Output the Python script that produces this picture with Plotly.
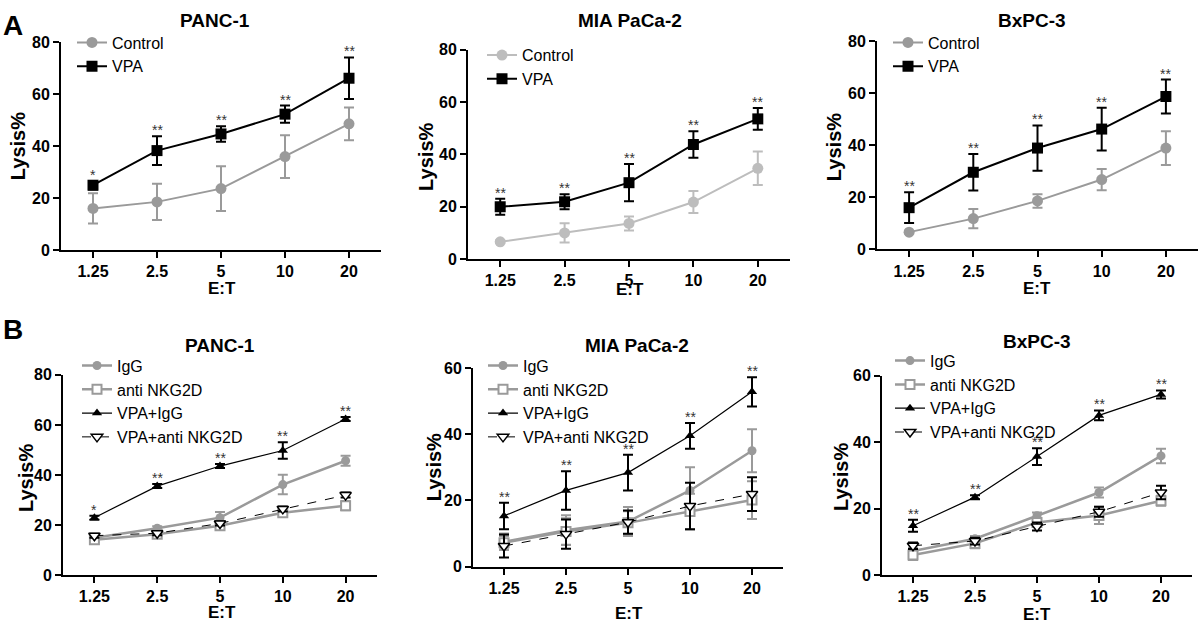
import plotly.graph_objects as go

W, H = 1200, 631

# ---------------- data ----------------
categories = ["1.25", "2.5", "5", "10", "20"]

# Panel A: Control vs VPA
a_panc1_control = [16.1, 18.6, 23.7, 36.0, 48.6]
a_panc1_control_err = [5.8, 7.0, 8.6, 8.2, 6.3]
a_panc1_vpa = [25.0, 38.3, 44.7, 52.3, 66.1]
a_panc1_vpa_err = [1.6, 5.5, 3.0, 3.3, 8.0]
a_panc1_sig = ["*", "**", "**", "**", "**"]

a_mia_control = [6.6, 10.0, 13.6, 21.8, 34.7]
a_mia_control_err = [0.5, 3.7, 2.7, 4.2, 6.4]
a_mia_vpa = [20.0, 21.9, 29.2, 43.8, 53.6]
a_mia_vpa_err = [3.1, 2.9, 7.1, 5.1, 4.2]
a_mia_sig = ["**", "**", "**", "**", "**"]

a_bx_control = [6.6, 11.8, 18.6, 26.8, 38.9]
a_bx_control_err = [0.5, 3.7, 2.6, 4.1, 6.5]
a_bx_vpa = [16.0, 29.6, 38.9, 46.2, 58.7]
a_bx_vpa_err = [5.9, 7.0, 8.7, 8.2, 6.5]
a_bx_sig = ["**", "**", "**", "**", "**"]

# Panel B: IgG / anti NKG2D / VPA+IgG / VPA+anti NKG2D
b_panc1_igg = [15.0, 18.8, 23.0, 36.2, 45.7]
b_panc1_igg_err = [0.8, 0.8, 2.3, 3.9, 2.0]
b_panc1_anti = [14.2, 16.4, 19.8, 25.0, 27.8]
b_panc1_anti_err = [1.0, 0.8, 1.5, 1.2, 1.8]
b_panc1_vpa_igg = [23.0, 35.6, 43.6, 49.8, 62.4]
b_panc1_vpa_igg_err = [0.8, 0.8, 0.8, 3.3, 0.8]
b_panc1_vpa_anti = [15.8, 16.8, 20.7, 26.5, 32.0]
b_panc1_vpa_anti_err = [0.8, 0.8, 0.8, 1.0, 1.0]
b_panc1_sig = ["*", "**", "**", "**", "**"]

b_mia_igg = [7.5, 11.0, 13.6, 23.0, 35.0]
b_mia_igg_err = [2.5, 4.5, 4.4, 7.0, 6.5]
b_mia_anti = [7.2, 10.6, 13.2, 16.6, 20.1]
b_mia_anti_err = [2.0, 4.0, 3.5, 5.4, 5.7]
b_mia_vpa_igg = [15.3, 23.0, 28.4, 39.5, 52.8]
b_mia_vpa_igg_err = [4.0, 5.8, 5.4, 3.9, 4.4]
b_mia_vpa_anti = [6.2, 9.8, 13.4, 18.3, 21.9]
b_mia_vpa_anti_err = [3.5, 4.4, 3.5, 7.0, 5.1]
b_mia_sig = ["**", "**", "**", "**", "**"]

b_bx_igg = [7.3, 11.0, 17.9, 24.9, 35.9]
b_bx_igg_err = [1.0, 0.8, 1.0, 1.5, 2.2]
b_bx_anti = [6.1, 9.6, 15.9, 18.0, 22.4]
b_bx_anti_err = [1.5, 1.5, 1.0, 2.6, 1.5]
b_bx_vpa_igg = [14.9, 23.5, 35.7, 48.1, 54.4]
b_bx_vpa_igg_err = [1.8, 0.6, 2.5, 1.5, 1.2]
b_bx_vpa_anti = [8.9, 10.3, 14.7, 19.1, 24.9]
b_bx_vpa_anti_err = [1.0, 1.0, 1.2, 1.5, 2.0]
b_bx_sig = ["**", "**", "**", "**", "**"]

# ---------------- styling / layout ----------------
FONT = "Liberation Sans, Arial, sans-serif"
GRAY = "#9a9a9a"
LIGHT = "#bdbdbd"


def px(x):
    return x / W


def py(y):
    return 1 - y / H


# pixel boxes: (x0, x1, ytop, ybottom), y max, title centre, ylabel centre, xlabel centre, legend pos
panels = [
    dict(box=(61, 381, 35, 249), ymax=80, title="PANC-1", tx=215, ty=13, ylx=18, yly=142, etx=222, ety=288, lx=72, ly=18),
    dict(box=(468, 790, 43, 258), ymax=80, title="MIA PaCa-2", tx=630, ty=13, ylx=426, yly=153, etx=630, ety=289, lx=482, ly=31),
    dict(box=(877, 1198, 34, 248), ymax=80, title="BxPC-3", tx=1032, ty=13, ylx=834, yly=143, etx=1037, ety=288, lx=888, ly=18),
    dict(box=(63, 377, 377, 583), ymax=80, title="PANC-1", tx=220, ty=347, ylx=26, yly=483, etx=222, ety=621, lx=77, ly=350),
    dict(box=(473, 783, 370, 574), ymax=60, title="MIA PaCa-2", tx=637, ty=347, ylx=434, yly=472, etx=629, ety=622, lx=483, ly=350),
    dict(box=(882, 1192, 378, 583), ymax=60, title="BxPC-3", tx=1037, ty=343, ylx=841, yly=482, etx=1037, ety=623, lx=890, ly=345),
]

fig = go.Figure()


def add(i, name, y, err, color, symbol, msize, lwidth, dash="solid", mfill=None, mline=0, ewidth=2):
    sfx = "" if i == 0 else str(i + 1)
    fig.add_trace(go.Scatter(
        x=categories, y=y, name=name, mode="lines+markers",
        xaxis="x" + sfx, yaxis="y" + sfx, legend="legend" + sfx,
        line=dict(color=color, width=lwidth, dash=dash),
        marker=dict(symbol=symbol, size=msize, color=mfill if mfill else color,
                    line=dict(color=color, width=mline)),
        error_y=dict(type="data", array=err, visible=True, color=color, thickness=ewidth, width=5),
        cliponaxis=False,
    ))


# A panels
add(0, "Control", a_panc1_control, a_panc1_control_err, GRAY, "circle", 11, 2)
add(0, "VPA", a_panc1_vpa, a_panc1_vpa_err, "black", "square", 11, 2)
add(1, "Control", a_mia_control, a_mia_control_err, LIGHT, "circle", 11, 2)
add(1, "VPA", a_mia_vpa, a_mia_vpa_err, "black", "square", 11, 2)
add(2, "Control", a_bx_control, a_bx_control_err, GRAY, "circle", 11, 2)
add(2, "VPA", a_bx_vpa, a_bx_vpa_err, "black", "square", 11, 2)

# B panels
for i, (igg, igge, anti, antie, vi, vie, va, vae) in enumerate([
    (b_panc1_igg, b_panc1_igg_err, b_panc1_anti, b_panc1_anti_err, b_panc1_vpa_igg, b_panc1_vpa_igg_err, b_panc1_vpa_anti, b_panc1_vpa_anti_err),
    (b_mia_igg, b_mia_igg_err, b_mia_anti, b_mia_anti_err, b_mia_vpa_igg, b_mia_vpa_igg_err, b_mia_vpa_anti, b_mia_vpa_anti_err),
    (b_bx_igg, b_bx_igg_err, b_bx_anti, b_bx_anti_err, b_bx_vpa_igg, b_bx_vpa_igg_err, b_bx_vpa_anti, b_bx_vpa_anti_err),
]):
    k = i + 3
    add(k, "IgG", igg, igge, GRAY, "circle", 9, 2.5)
    add(k, "anti NKG2D", anti, antie, GRAY, "square", 9, 2.5, mfill="white", mline=2)
    add(k, "VPA+IgG", vi, vie, "black", "triangle-up", 9, 1.2)
    add(k, "VPA+anti NKG2D", va, vae, "black", "triangle-down", 10, 1, dash="dash", mfill="white", mline=1.5)

sig_sets = [
    (a_panc1_vpa, a_panc1_vpa_err, a_panc1_sig),
    (a_mia_vpa, a_mia_vpa_err, a_mia_sig),
    (a_bx_vpa, a_bx_vpa_err, a_bx_sig),
    (b_panc1_vpa_igg, b_panc1_vpa_igg_err, b_panc1_sig),
    (b_mia_vpa_igg, b_mia_vpa_igg_err, b_mia_sig),
    (b_bx_vpa_igg, b_bx_vpa_igg_err, b_bx_sig),
]

annotations = []
layout = dict(
    width=W, height=H, margin=dict(l=0, r=0, t=0, b=0),
    paper_bgcolor="white", plot_bgcolor="white",
    font=dict(family=FONT, color="black"),
    showlegend=True,
)


def label(text, x, y, size, angle=0, color="black"):
    annotations.append(dict(text=text, x=px(x), y=py(y), xref="paper", yref="paper",
                            xanchor="center", yanchor="middle", showarrow=False,
                            textangle=angle, font=dict(family=FONT, size=size, color=color)))


for i, p in enumerate(panels):
    sfx = "" if i == 0 else str(i + 1)
    x0, x1, yt, yb = p["box"]
    layout["xaxis" + sfx] = dict(
        domain=[px(x0), px(x1)], anchor="y" + sfx, type="category",
        range=[-0.5, 4.5], showline=True, linecolor="black", linewidth=2,
        ticks="outside", ticklen=6, tickwidth=2, tickcolor="black",
        showgrid=False, zeroline=False, fixedrange=True,
        tickfont=dict(family=FONT, size=16, color="black", weight="bold"),
    )
    layout["yaxis" + sfx] = dict(
        domain=[py(yb), py(yt)], anchor="x" + sfx,
        range=[0, p["ymax"]], tickvals=list(range(0, p["ymax"] + 1, 20)),
        showline=True, linecolor="black", linewidth=2,
        ticks="outside", ticklen=6, tickwidth=2, tickcolor="black",
        showgrid=False, zeroline=False, fixedrange=True,
        tickfont=dict(family=FONT, size=16, color="black", weight="bold"),
    )
    layout["legend" + sfx] = dict(
        x=px(p["lx"]), y=py(p["ly"]), xanchor="left", yanchor="top",
        bgcolor="rgba(0,0,0,0)", borderwidth=0,
        font=dict(family=FONT, size=16, color="black"),
        itemwidth=30, tracegroupgap=0,
    )
    label("<b>%s</b>" % p["title"], p["tx"], p["ty"], 19)
    label("<b>Lysis%</b>", p["ylx"], p["yly"], 20, angle=-90)
    label("<b>E:T</b>", p["etx"], p["ety"], 17)
    # significance marks above the VPA series
    vals, errs, sig = sig_sets[i]
    for j, (v, e, s) in enumerate(zip(vals, errs, sig)):
        annotations.append(dict(text=s, x=j, y=v + e, xref="x" + sfx, yref="y" + sfx,
                                xanchor="center", yanchor="bottom", showarrow=False, yshift=-4,
                                font=dict(family=FONT, size=14, color="#333333")))

annotations.append(dict(text="<b>A</b>", x=px(1), y=py(0), xref="paper", yref="paper",
                        xanchor="left", yanchor="top", showarrow=False,
                        font=dict(family=FONT, size=28, color="black")))
annotations.append(dict(text="<b>B</b>", x=px(1), y=py(312), xref="paper", yref="paper",
                        xanchor="left", yanchor="top", showarrow=False,
                        font=dict(family=FONT, size=28, color="black")))
layout["annotations"] = annotations

fig.update_layout(**layout)
fig.write_html("out.html", config={"displayModeBar": False},
               post_script="document.body.style.margin='0';document.body.style.overflow='hidden';")
